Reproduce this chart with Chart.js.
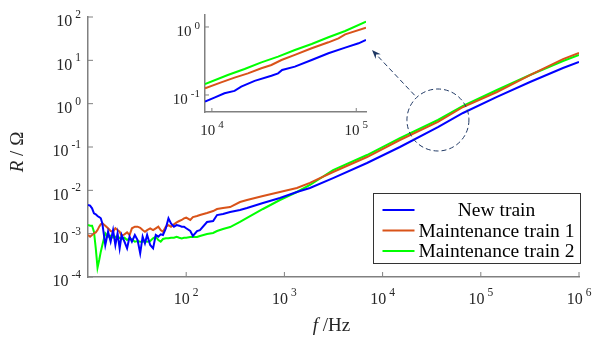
<!DOCTYPE html>
<html>
<head>
<meta charset="utf-8">
<script src="https://cdn.jsdelivr.net/npm/chart.js@4.4.0/dist/chart.umd.min.js"></script>
<style>
html, body { margin: 0; padding: 0; background: #fff; }
#wrap { position: relative; width: 592px; height: 337px; }
#main { position: absolute; left: 0; top: 0; }
#inset { position: absolute; left: 150px; top: 0; }
</style>
</head>
<body>
<div id="wrap">
  <canvas id="main" width="592" height="337"></canvas>
  <canvas id="inset" width="230" height="145"></canvas>
</div>
<script>
// frequency in Hz, resistance in ohm
var freqHz = [10, 10.5, 11, 11.5, 12, 12.5, 13, 13.5, 14, 15, 16, 17, 18, 19, 20, 21, 22, 23.5, 25, 26.5, 28,
  30, 32, 34, 36, 38, 40, 43, 46, 49, 52, 55, 58, 62, 66, 70, 75, 80, 85, 90, 95, 100,
  110, 117, 129, 138, 163, 188, 206, 237, 280, 353, 416, 605, 900, 1340, 1820, 3130, 6940,
  15000, 36600, 65900, 146000, 317000, 687000, 1000000];

var newTrain = [4.58e-3, 4.43e-3, 3.84e-3, 2.94e-3, 2.79e-3, 2.55e-3, 2.42e-3, 2.26e-3, 1.73e-3,
  5.47e-4, 1.11e-3, 6.53e-4, 1.21e-3, 5.47e-4, 1.02e-3,
  4.58e-4, 9.31e-4, 6.53e-4, 4.58e-4, 8.51e-4, 6.53e-4,
  9.31e-4, 7.14e-4, 3.52e-4, 8.51e-4, 5.98e-4, 9.31e-4,
  5.47e-4, 4.58e-4, 9.31e-4, 8.51e-4, 9.64e-4, 9.31e-4,
  1.33e-3, 2.26e-3, 1.73e-3, 1.45e-3, 1.58e-3, 1.53e-3,
  1.45e-3, 1.45e-3, 1.33e-3,
  1.15e-3, 8.83e-4, 1.15e-3, 1.21e-3, 1.86e-3, 1.96e-3, 2.69e-3, 2.84e-3, 3.16e-3, 3.52e-3,
  3.91e-3, 5.09e-3, 6.65e-3, 9.15e-3, 0.0113, 0.0192, 0.0427, 0.100, 0.289, 0.609,
  1.43, 3.16, 6.65, 9.15];

var maintTrain1 = [9.31e-4, 8.51e-4, 9.31e-4, 1.02e-3, 1.07e-3, 1.21e-3, 1.45e-3, 1.64e-3, 1.73e-3,
  1.53e-3, 1.33e-3, 1.15e-3, 1.11e-3, 1.33e-3, 1.21e-3,
  1.11e-3, 8.97e-4, 9.64e-4, 1.07e-3, 9.31e-4, 1.33e-3,
  1.45e-3, 1.45e-3, 1.37e-3, 1.21e-3, 1.11e-3, 1.21e-3,
  1.33e-3, 1.21e-3, 1.33e-3, 1.45e-3, 1.21e-3, 1.11e-3,
  1.45e-3, 1.58e-3, 1.45e-3, 1.64e-3, 1.82e-3, 1.96e-3,
  2.07e-3, 2.26e-3, 2.34e-3,
  2.07e-3, 2.42e-3, 2.55e-3, 2.69e-3, 3.00e-3, 3.33e-3, 3.71e-3, 3.91e-3, 4.12e-3, 5.37e-3,
  5.98e-3, 7.40e-3, 9.15e-3, 0.0113, 0.0148, 0.0265, 0.0587, 0.145, 0.378, 0.837,
  1.86, 4.58, 10.7, 14.8];

var maintTrain2 = [1.58e-3, 1.53e-3, 1.53e-3, 1.11e-3, 4.58e-4, 1.64e-4, 2.47e-4, 3.84e-4, 5.47e-4,
  1.02e-3, 8.51e-4, 8.97e-4, 8.07e-4, 8.51e-4, 7.80e-4,
  8.07e-4, 7.53e-4, 8.07e-4, 7.14e-4, 7.80e-4, 7.40e-4,
  6.53e-4, 6.76e-4, 6.53e-4, 6.53e-4, 6.76e-4, 6.53e-4,
  6.76e-4, 7.80e-4, 8.51e-4, 7.14e-4, 6.53e-4, 7.53e-4,
  7.80e-4, 7.80e-4, 8.07e-4, 8.07e-4, 8.51e-4, 8.07e-4,
  7.80e-4, 8.07e-4, 8.07e-4,
  8.37e-4, 8.37e-4, 8.37e-4, 8.83e-4, 9.82e-4, 1.04e-3, 1.15e-3, 1.28e-3, 1.42e-3, 1.86e-3,
  2.30e-3, 3.71e-3, 5.98e-3, 9.15e-3, 0.0133, 0.0294, 0.0653, 0.161, 0.420, 0.883,
  2.07, 4.58, 9.65, 13.3];

var seriesNames = ['New train', 'Maintenance train 1', 'Maintenance train 2'];
var seriesColors = ['#0000ff', '#d95319', '#00ff00'];
var xTickPowers = [2, 3, 4, 5, 6];
var yTickPowers = [-4, -3, -2, -1, 0, 1, 2];

// inset (zoom on 10^4 .. 10^5)
var insetNewF = [8963, 10410, 12220, 14350, 15970, 19780, 25840, 28750, 30660, 37570, 49100, 64150, 83800, 103800, 116800];
var insetNewR = [0.0798, 0.0914, 0.106, 0.115, 0.133, 0.161, 0.192, 0.208, 0.233, 0.261, 0.327, 0.410, 0.497, 0.575, 0.644];
var insetM1F = [8963, 11590, 14350, 17770, 22010, 25840, 30340, 37570, 49100, 64150, 75310, 83800, 116800];
var insetM1R = [0.125, 0.153, 0.180, 0.208, 0.247, 0.276, 0.327, 0.388, 0.486, 0.595, 0.681, 0.780, 0.978];
var insetM2F = [8963, 12890, 16850, 22010, 28750, 37570, 49100, 64150, 83800, 116800];
var insetM2R = [0.145, 0.197, 0.241, 0.302, 0.366, 0.459, 0.562, 0.705, 0.873, 1.20];
var insetXTickPowers = [4, 5];
var insetYTickPowers = [-1, 0];

// dashed circle + arrow (data coordinates)
var zoomSpot = { f: 36600, r: 0.42 };
var arrowTip = { f: 7800, r: 17.3 };

var serif = '"Liberation Serif", "Times New Roman", serif';
var axisGray = '#808080';
var textColor = '#262626';

function pairs(xs, ys) {
  return xs.map(function (v, i) { return { x: v, y: ys[i] }; });
}

function powLabel(ctx, p, x, y, align, big, small, rise) {
  var exp = String(p);
  ctx.font = big + 'px ' + serif;
  var wb = ctx.measureText('10').width;
  ctx.font = small + 'px ' + serif;
  var we = ctx.measureText(exp).width;
  var gap = 3;
  var w = wb + gap + we;
  var x0 = align === 'right' ? x - w : x - w / 2;
  ctx.textAlign = 'left';
  ctx.textBaseline = 'middle';
  ctx.font = big + 'px ' + serif;
  ctx.fillText('10', x0, y);
  ctx.font = small + 'px ' + serif;
  ctx.fillText(exp, x0 + wb + gap, y - rise);
}

var deco = {
  id: 'deco',
  afterDraw: function (chart, args, o) {
    var ctx = chart.ctx, a = chart.chartArea;
    var xs = chart.scales.x, ys = chart.scales.y;
    ctx.save();
    ctx.strokeStyle = axisGray;
    ctx.lineWidth = 1;
    ctx.fillStyle = textColor;
    o.xTicks.forEach(function (p) {
      var px = xs.getPixelForValue(Math.pow(10, p));
      ctx.beginPath();
      ctx.moveTo(px, a.bottom);
      ctx.lineTo(px, a.bottom - o.tickLen);
      ctx.stroke();
      powLabel(ctx, p, px, a.bottom + o.xLabelDy, 'center', o.big, o.small, o.rise);
    });
    o.yTicks.forEach(function (p) {
      var py = ys.getPixelForValue(Math.pow(10, p));
      ctx.beginPath();
      ctx.moveTo(a.left, py);
      ctx.lineTo(a.left + o.tickLen, py);
      ctx.stroke();
      powLabel(ctx, p, a.left - o.yLabelDx, py + 5, 'right', o.big, o.small, o.rise);
    });
    ctx.restore();
    if (o.extra) o.extra(chart);
  }
};

function drawMainExtras(chart) {
  var ctx = chart.ctx, a = chart.chartArea;
  var xs = chart.scales.x, ys = chart.scales.y;
  ctx.save();

  // axis titles
  ctx.fillStyle = textColor;
  ctx.textBaseline = 'middle';
  ctx.textAlign = 'left';
  ctx.font = 'italic 19px ' + serif;
  var wf = ctx.measureText('f').width;
  ctx.font = '19px ' + serif;
  var wh = ctx.measureText(' /Hz').width;
  var cx = (a.left + a.right) / 2 - 2;
  ctx.font = 'italic 19px ' + serif;
  ctx.fillText('f', cx - (wf + wh) / 2, 326);
  ctx.font = '19px ' + serif;
  ctx.fillText(' /Hz', cx - (wf + wh) / 2 + wf, 326);

  ctx.save();
  ctx.translate(18, 152);
  ctx.rotate(-Math.PI / 2);
  ctx.font = 'italic 19px ' + serif;
  var wr = ctx.measureText('R').width;
  ctx.font = '19px ' + serif;
  var wo = ctx.measureText(' / Ω').width;
  ctx.font = 'italic 19px ' + serif;
  ctx.fillText('R', -(wr + wo) / 2, 0);
  ctx.font = '19px ' + serif;
  ctx.fillText(' / Ω', -(wr + wo) / 2 + wr, 0);
  ctx.restore();

  // dashed circle and arrow to the inset
  var ccx = xs.getPixelForValue(zoomSpot.f), ccy = ys.getPixelForValue(zoomSpot.r);
  var rad = 31;
  var tx = xs.getPixelForValue(arrowTip.f), ty = ys.getPixelForValue(arrowTip.r);
  ctx.strokeStyle = '#1f3864';
  ctx.fillStyle = '#1f3864';
  ctx.lineWidth = 1;
  ctx.setLineDash([5, 3]);
  ctx.beginPath();
  ctx.arc(ccx, ccy, rad, 0, Math.PI * 2);
  ctx.stroke();
  var dx = tx - ccx, dy = ty - ccy, len = Math.sqrt(dx * dx + dy * dy);
  var ux = dx / len, uy = dy / len;
  ctx.beginPath();
  ctx.moveTo(ccx + ux * (rad + 3), ccy + uy * (rad + 3));
  ctx.lineTo(tx - ux * 7, ty - uy * 7);
  ctx.stroke();
  ctx.setLineDash([]);
  ctx.beginPath();
  ctx.moveTo(tx, ty);
  ctx.lineTo(tx - ux * 9 - uy * 3.5, ty - uy * 9 + ux * 3.5);
  ctx.lineTo(tx - ux * 6, ty - uy * 6);
  ctx.lineTo(tx - ux * 9 + uy * 3.5, ty - uy * 9 - ux * 3.5);
  ctx.closePath();
  ctx.fill();

  // legend box
  var bx = a.right - 205.5, by = a.bottom - 83.5, bw = 207, bh = 70;
  ctx.fillStyle = '#ffffff';
  ctx.fillRect(bx, by, bw, bh);
  ctx.strokeStyle = '#333333';
  ctx.lineWidth = 1;
  ctx.strokeRect(bx, by, bw, bh);
  ctx.font = '19.5px ' + serif;
  ctx.textAlign = 'center';
  ctx.textBaseline = 'middle';
  chart.data.datasets.forEach(function (ds, i) {
    var ly = by + 16.5 + i * 20.5;
    ctx.strokeStyle = ds.borderColor;
    ctx.lineWidth = 2;
    ctx.beginPath();
    ctx.moveTo(bx + 9, ly);
    ctx.lineTo(bx + 41, ly);
    ctx.stroke();
    ctx.fillStyle = '#000000';
    ctx.fillText(ds.label, bx + 123, ly + 1);
  });
  ctx.restore();
}

function makeDatasets(fs, rs) {
  return seriesNames.map(function (name, i) {
    return {
      label: name,
      data: pairs(fs[i], rs[i]),
      borderColor: seriesColors[i],
      backgroundColor: seriesColors[i],
      borderWidth: 2,
      pointRadius: 0,
      tension: 0,
      fill: false
    };
  });
}

function logAxis(min, max, fit) {
  return {
    type: 'logarithmic',
    min: min,
    max: max,
    grid: { display: false },
    ticks: { display: false },
    border: { display: true, color: axisGray, width: 1.5 },
    afterFit: fit
  };
}

var mainChart = new Chart(document.getElementById('main').getContext('2d'), {
  type: 'line',
  data: {
    datasets: makeDatasets([freqHz, freqHz, freqHz], [newTrain, maintTrain1, maintTrain2])
  },
  options: {
    responsive: false,
    animation: false,
    devicePixelRatio: 1,
    layout: { padding: { top: 17, right: 13, left: 0, bottom: 0 } },
    plugins: {
      legend: { display: false },
      tooltip: { enabled: false },
      deco: {
        xTicks: xTickPowers, yTicks: yTickPowers, tickLen: 5,
        xLabelDy: 23, yLabelDx: 7, big: 16, small: 11.5, rise: 7,
        extra: drawMainExtras
      }
    },
    scales: {
      x: logAxis(10, 1e6, function (s) { s.height = 60; }),
      y: logAxis(1e-4, 100, function (s) { s.width = 88; })
    }
  },
  plugins: [deco]
});

var insetChart = new Chart(document.getElementById('inset').getContext('2d'), {
  type: 'line',
  data: {
    datasets: makeDatasets([insetNewF, insetM1F, insetM2F], [insetNewR, insetM1R, insetM2R])
  },
  options: {
    responsive: false,
    animation: false,
    devicePixelRatio: 1,
    layout: { padding: { top: 15, right: 14, left: 0, bottom: 0 } },
    plugins: {
      legend: { display: false },
      tooltip: { enabled: false },
      deco: {
        xTicks: insetXTickPowers, yTicks: insetYTickPowers, tickLen: 4,
        xLabelDy: 19, yLabelDx: 5, big: 15, small: 11, rise: 6
      }
    },
    scales: {
      x: logAxis(8960, 116800, function (s) { s.height = 33; }),
      y: logAxis(0.0562, 1.50, function (s) { s.width = 55; })
    }
  },
  plugins: [deco]
});
</script>
</body>
</html>
